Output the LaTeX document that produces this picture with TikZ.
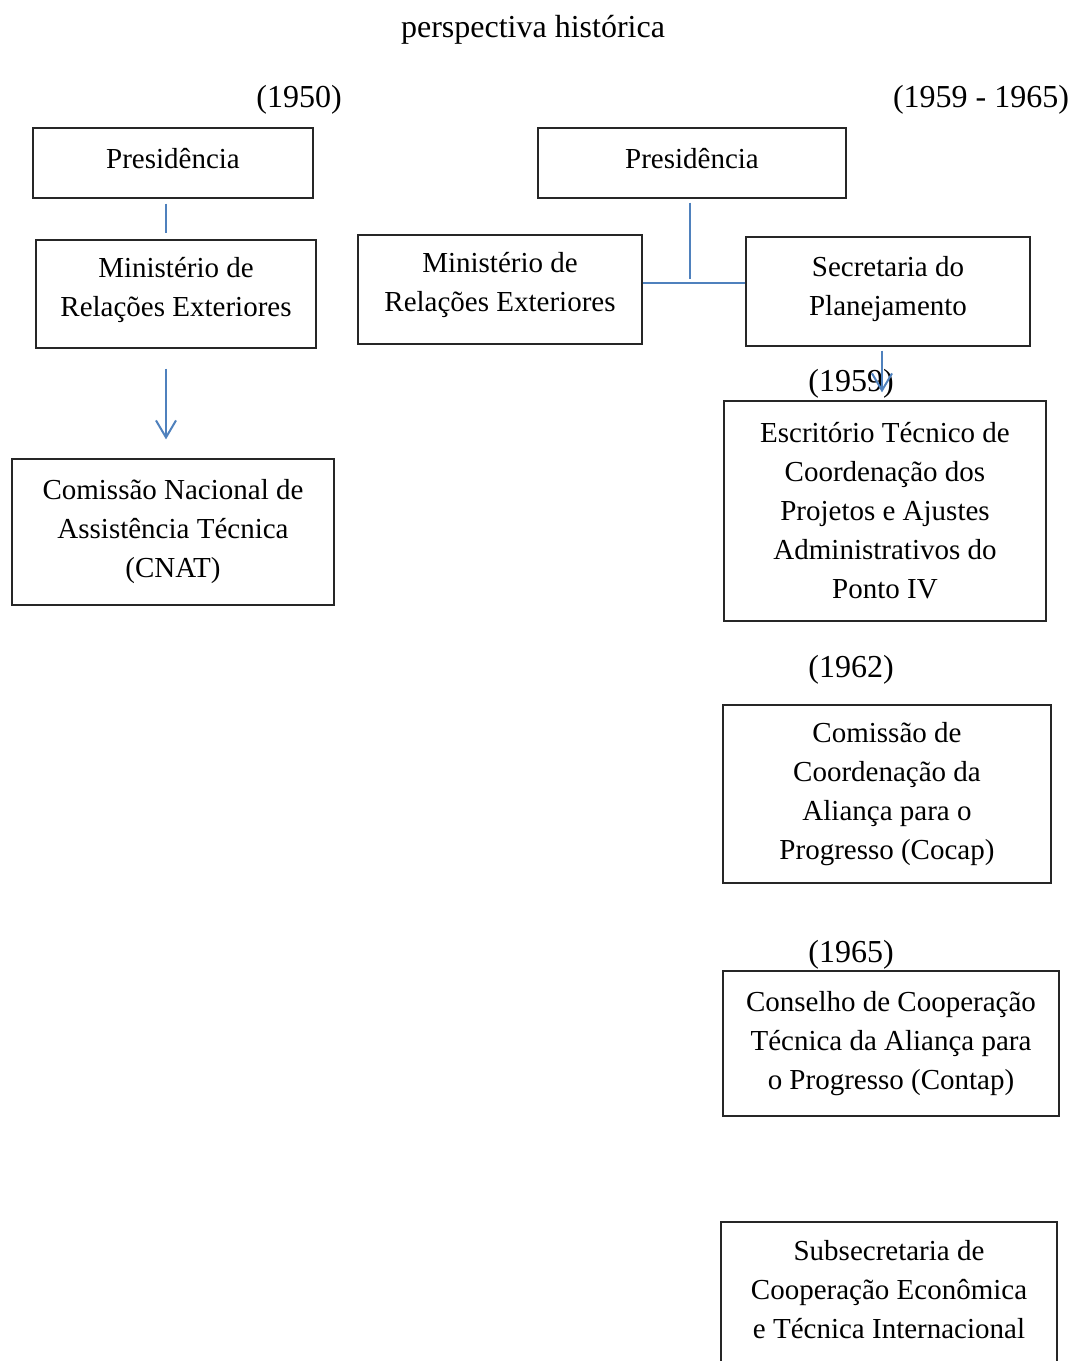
\documentclass[tikz,border=0pt]{standalone}
\usepackage{fontspec}
\setmainfont{Liberation Serif}
\usepackage{xcolor}
\definecolor{wordblue}{HTML}{4F81BD}
\usepackage{tikz}
\usetikzlibrary{positioning,arrows.meta}

\tikzset{
  orgbox/.style={draw=black!85, line width=1.2pt, align=center, inner sep=0pt,
    font=\fontsize{29}{39}\selectfont},
  yearlbl/.style={inner sep=0pt, font=\fontsize{32}{39}\selectfont},
  link/.style={draw=wordblue, line width=2pt},
  linkarrow/.style={link, -{Straight Barb[length=17pt,width=20pt,line width=2pt]}}
}

\begin{document}
\begin{tikzpicture}[x=1pt,y=-1pt]
\useasboundingbox (0,0) rectangle (1074,1361);

\node[yearlbl] (title) at (533,30) {perspectiva histórica};
\node[yearlbl] (y1950) at (299,100) {(1950)};
\node[yearlbl] (y5965) at (981,100) {(1959 - 1965)};

% 1950
\node[orgbox, minimum width=280pt, minimum height=70pt] (pres1) at (173,163) {\raisebox{9pt}{Presidência}};
\node[orgbox, minimum width=280pt, minimum height=108pt, text depth=14pt] (mre1) at (176,294) {Ministério de\\Relações Exteriores};
\node[orgbox, minimum width=322pt, minimum height=146pt] (cnat) at (173,532) {Comissão Nacional de\\Assistência Técnica\\(CNAT)};

\draw[link, shorten <=5pt, shorten >=6pt] (pres1.south -| 166,0) -- (mre1.north -| 166,0);
\draw[linkarrow, shorten <=20pt, shorten >=19pt] (mre1.south -| 166,0) -- (cnat.north -| 166,0);

% 1959 - 1965
\node[orgbox, minimum width=308pt, minimum height=70pt] (pres2) at (692,163) {\raisebox{9pt}{Presidência}};
\node[orgbox, minimum width=284pt, minimum height=109pt, text depth=16pt] (mre2) at (500,289.5) {Ministério de\\Relações Exteriores};
\node[orgbox, minimum width=284pt, minimum height=109pt, text depth=12pt] (seplan) at (888,291.5) {Secretaria do\\Planejamento};
\coordinate (joint) at (690,283);

\draw[link, shorten <=4pt, shorten >=4pt] (pres2.south -| joint) -- (joint);
\draw[link] (mre2.east |- joint) -- (seplan.west |- joint);

\node[orgbox, minimum width=322pt, minimum height=220pt] (etc) at (885,511) {Escritório Técnico de\\Coordenação dos\\Projetos e Ajustes\\Administrativos do\\Ponto IV};
\node[yearlbl] (y1959) at (851,384) {(1959)};
\draw[linkarrow, shorten <=4pt, shorten >=8pt] (seplan.south -| 882,0) -- (etc.north -| 882,0);

\node[yearlbl] (y1962) at (851,670) {(1962)};
\node[orgbox, minimum width=328pt, minimum height=178pt] (cocap) at (887,794) {Comissão de\\Coordenação da\\Aliança para o\\Progresso (Cocap)};

\node[yearlbl] (y1965) at (851,955) {(1965)};
\node[orgbox, minimum width=336pt, minimum height=145pt] (contap) at (891,1043.5) {Conselho de Cooperação\\Técnica da Aliança para\\o Progresso (Contap)};

% cut off at the page foot
\draw[black!85, line width=1.2pt] (721,1361) |- (1057,1222) -- (1057,1361);
\node[orgbox, draw=none] (subin) at (889,1290) {Subsecretaria de\\Cooperação Econômica\\e Técnica Internacional};
\end{tikzpicture}
\end{document}
